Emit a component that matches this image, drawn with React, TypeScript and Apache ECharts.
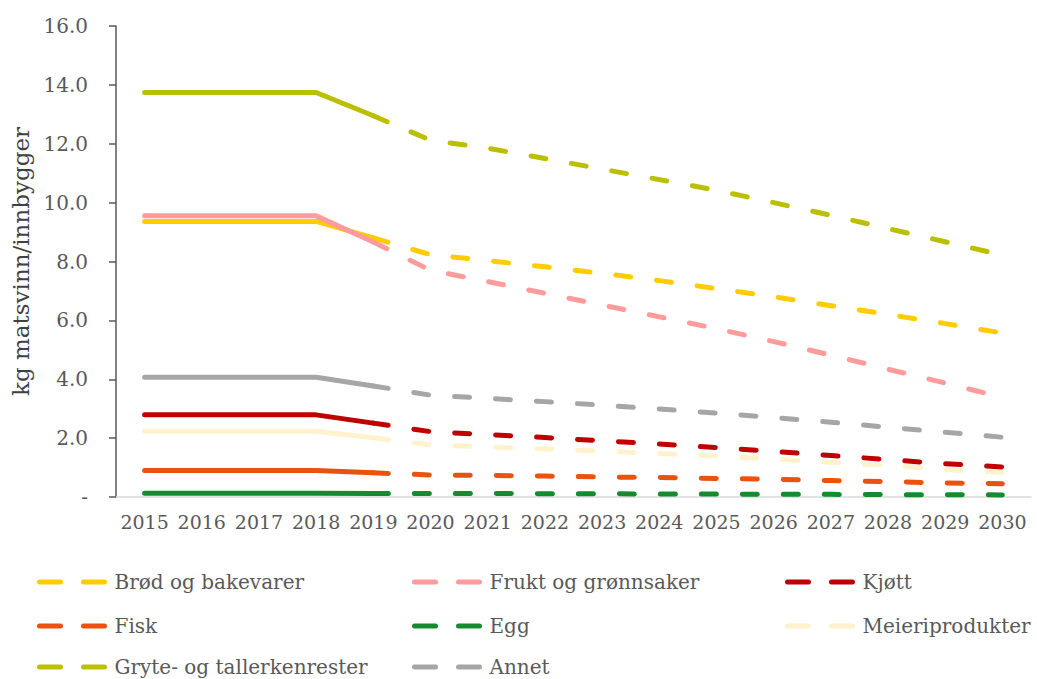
import React, { useEffect, useRef } from "react";
import * as echarts from "echarts";

const years = ["2015","2016","2017","2018","2019","2020","2021","2022","2023","2024","2025","2026","2027","2028","2029","2030"];
const yTicks = [0, 2, 4, 6, 8, 10, 12, 14, 16];

const seriesNames = [
  "Brød og bakevarer",
  "Frukt og grønnsaker",
  "Kjøtt",
  "Fisk",
  "Egg",
  "Meieriprodukter",
  "Gryte- og tallerkenrester",
  "Annet",
];

const brod = [9.36, 9.36, 9.36, 9.36, 8.8, 8.23, 8.03, 7.82, 7.6, 7.35, 7.08, 6.8, 6.5, 6.2, 5.89, 5.57];
const frukt = [9.55, 9.55, 9.55, 9.55, 8.66, 7.7, 7.32, 6.92, 6.52, 6.12, 5.72, 5.28, 4.82, 4.34, 3.87, 3.38];
const kjott = [2.79, 2.79, 2.79, 2.79, 2.51, 2.22, 2.12, 2.02, 1.91, 1.8, 1.68, 1.55, 1.41, 1.27, 1.13, 1.02];
const fisk = [0.9, 0.9, 0.9, 0.9, 0.82, 0.75, 0.73, 0.71, 0.68, 0.66, 0.63, 0.6, 0.56, 0.52, 0.48, 0.45];
const egg = [0.13, 0.13, 0.13, 0.13, 0.12, 0.12, 0.12, 0.11, 0.11, 0.1, 0.1, 0.09, 0.09, 0.08, 0.08, 0.07];
const meieri = [2.23, 2.23, 2.23, 2.23, 2.01, 1.77, 1.7, 1.63, 1.56, 1.48, 1.39, 1.29, 1.18, 1.06, 0.94, 0.83];
const gryte = [13.74, 13.74, 13.74, 13.74, 12.95, 12.12, 11.85, 11.5, 11.14, 10.78, 10.42, 10.0, 9.57, 9.12, 8.67, 8.22];
const annet = [4.07, 4.07, 4.07, 4.07, 3.77, 3.46, 3.35, 3.24, 3.12, 2.99, 2.85, 2.7, 2.54, 2.37, 2.2, 2.03];

const lastActualIndex = 4; // 2019

const colors = ["#FFCC00", "#FF9B9B", "#C00000", "#E9520F", "#158A2E", "#FFF2CC", "#BABF00", "#A6A6A6"];
const allValues = [brod, frukt, kjott, fisk, egg, meieri, gryte, annet];

// legend layout: [column, row] for each series
const legendCells = [[0, 0], [1, 0], [2, 0], [0, 1], [1, 1], [2, 1], [0, 2], [1, 2]];
const legendColX = [32, 407, 780];
const legendRowY = [567, 611, 652];

const FONT = "DejaVu Serif";
const TEXT = "#595959";

export default function App() {
  const ref = useRef<HTMLDivElement>(null);

  useEffect(() => {
    document.body.style.margin = "0";
    const chart = echarts.init(ref.current!, null, { renderer: "svg" });

    const series: any[] = [];
    allValues.forEach((vals, i) => {
      const solid = vals.map((v, k) => (k <= lastActualIndex ? v : null));
      series.push({
        name: seriesNames[i] + " (historisk)",
        type: "line",
        data: solid,
        symbol: "none",
        lineStyle: { color: colors[i], width: 5, cap: "round", join: "round" },
        itemStyle: { color: colors[i] },
        z: 2 + i,
      });
    });
    allValues.forEach((vals, i) => {
      const dashed = vals.map((v, k) => (k >= lastActualIndex ? v : null));
      series.push({
        name: seriesNames[i],
        type: "line",
        data: dashed,
        symbol: "none",
        lineStyle: { color: colors[i], width: 5, type: [15, 26], cap: "round", join: "round" },
        itemStyle: { color: colors[i] },
        z: 2 + i,
      });
    });

    const legends = seriesNames.map((name, i) => ({
      orient: "horizontal",
      left: legendColX[legendCells[i][0]],
      top: legendRowY[legendCells[i][1]],
      itemWidth: 70,
      itemHeight: 14,
      textStyle: { fontFamily: FONT, fontSize: 20, color: TEXT },
      lineStyle: { type: [21, 23], width: 5, cap: "round" },
      itemStyle: { color: "transparent", opacity: 0, borderWidth: 0 },
      selectedMode: false,
      data: [name],
    }));

    chart.setOption({
      animation: false,
      textStyle: { fontFamily: FONT },
      grid: { left: 116, right: 6, top: 26, bottom: 182, containLabel: false },
      xAxis: {
        type: "category",
        data: years,
        boundaryGap: true,
        axisLine: { lineStyle: { color: "#D9D9D9", width: 1.5 } },
        axisTick: { show: false },
        axisLabel: { fontFamily: FONT, fontSize: 19, color: TEXT, margin: 15, interval: 0 },
      },
      yAxis: {
        type: "value",
        min: yTicks[0],
        max: yTicks[yTicks.length - 1],
        interval: 2,
        name: "kg matsvinn/innbygger",
        nameLocation: "middle",
        nameGap: 82,
        nameTextStyle: { fontFamily: FONT, fontSize: 23, color: "#404040" },
        axisLine: { show: true, lineStyle: { color: "#595959", width: 1.5 } },
        axisTick: { show: true, length: 7, lineStyle: { color: "#595959", width: 1.5 } },
        splitLine: { show: false },
        axisLabel: {
          fontFamily: FONT,
          fontSize: 20,
          color: TEXT,
          margin: 28,
          formatter: (v: number) => (v === 0 ? "-" : v.toFixed(1)),
        },
      },
      legend: legends,
      series,
    });

    return () => chart.dispose();
  }, []);

  return <div ref={ref} style={{ width: 1037, height: 679 }} />;
}
